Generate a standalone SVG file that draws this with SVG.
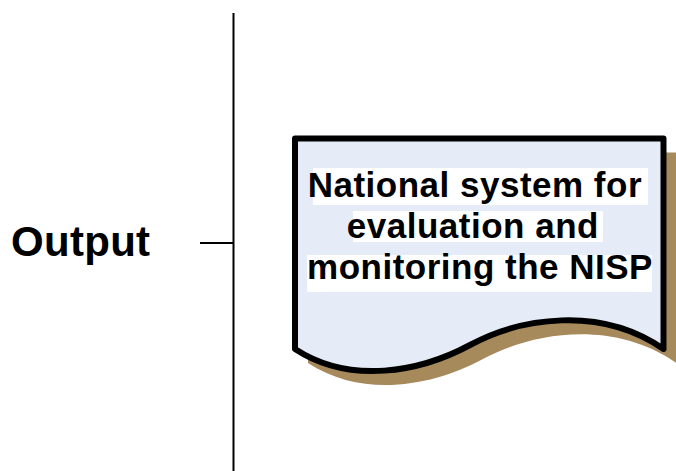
<svg xmlns="http://www.w3.org/2000/svg" width="676" height="471" viewBox="0 0 676 471">
  <style>
    .line { stroke: #000; stroke-width: 2; fill: none; }
    .label { font-family: "Liberation Sans", Arial, sans-serif; font-weight: bold; fill: #000; }
    .doc { fill: #e6ecf7; stroke: #000; stroke-width: 6; stroke-linejoin: round; }
    .shadow { fill: #a68a5c; }
    .hl { fill: #ffffff; }
  </style>
  <defs>
    <path id="docShape" d="M295,138.5 H663.5 V349 C600,305 520,318 470,345 C420,372 350,385 295,349 Z"/>
  </defs>
  <rect width="676" height="471" fill="#ffffff"/>
  <g id="connectors">
    <line class="line" x1="233.5" y1="13" x2="233.5" y2="471"/>
    <line class="line" x1="200" y1="243" x2="233.5" y2="243"/>
  </g>
  <g id="output-label">
    <text class="label" x="11" y="256" font-size="42" letter-spacing="0.3">Output</text>
  </g>
  <g id="document-node">
    <use href="#docShape" class="shadow" transform="translate(13,14)"/>
    <use href="#docShape" class="doc"/>
    <rect class="hl" x="313" y="168" width="335" height="37"/>
    <rect class="hl" x="353" y="211" width="250" height="31"/>
    <rect class="hl" x="307" y="255" width="345" height="37"/>
    <text class="label" font-size="35" letter-spacing="0.5" text-anchor="middle">
      <tspan x="480" y="197">National system for</tspan>
      <tspan x="478" y="238">evaluation and</tspan>
      <tspan x="480" y="279">monitoring the NISP</tspan>
    </text>
  </g>
</svg>
